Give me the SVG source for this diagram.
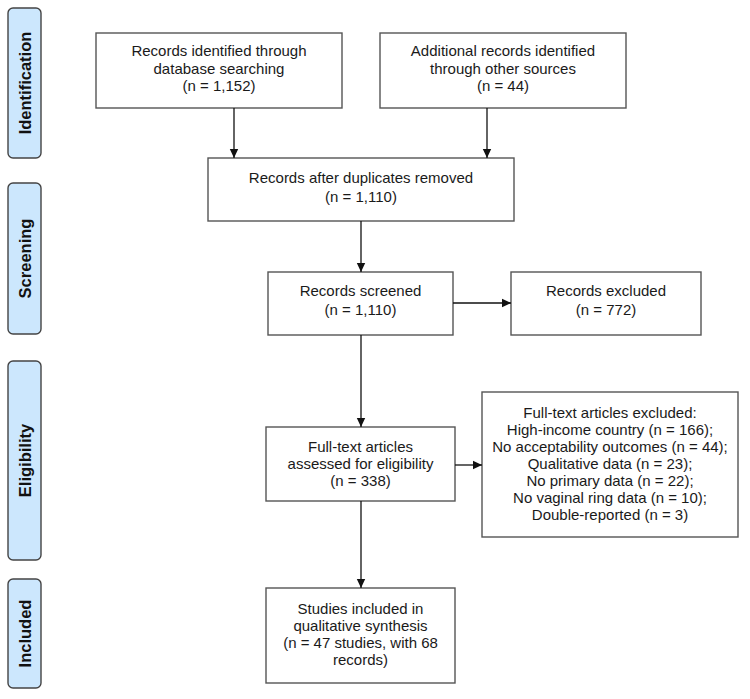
<svg xmlns="http://www.w3.org/2000/svg" width="750" height="699" viewBox="0 0 750 699">
<defs>
<marker id="ah" markerWidth="10" markerHeight="10" refX="9" refY="5" orient="auto" markerUnits="userSpaceOnUse">
<path d="M0,0.8 L9,5 L0,9.2 Z" fill="#111"/>
</marker>
<style>
.box{fill:#fff;stroke:#555;stroke-width:1.4}
.side{fill:#cce7fd;stroke:#444;stroke-width:1.4}
.t{font-family:"Liberation Sans",Arial,sans-serif;font-size:15px;fill:#1a1a1a;text-anchor:middle}
.st{font-family:"Liberation Sans",Arial,sans-serif;font-size:16.5px;font-weight:bold;fill:#111;text-anchor:middle}
.c{stroke:#111;stroke-width:1.3;fill:none;marker-end:url(#ah)}
</style>
</defs>
<rect width="750" height="699" fill="#fff"/>
<g id="phase-identification"><rect class="side" x="8" y="8" width="33" height="150" rx="5"/><text class="st" transform="translate(31,83) rotate(-90)">Identification</text></g>
<g id="phase-screening"><rect class="side" x="8" y="183" width="33" height="151" rx="5"/><text class="st" transform="translate(31,258.5) rotate(-90)">Screening</text></g>
<g id="phase-eligibility"><rect class="side" x="8" y="361" width="33" height="199" rx="5"/><text class="st" transform="translate(31,460.5) rotate(-90)">Eligibility</text></g>
<g id="phase-included"><rect class="side" x="8" y="579" width="33" height="109" rx="5"/><text class="st" transform="translate(31,633.5) rotate(-90)">Included</text></g>

<g id="db-search"><rect class="box" x="96" y="33" width="246" height="75"/>
<text class="t" x="219" y="56">Records identified through</text>
<text class="t" x="219" y="73.5">database searching</text>
<text class="t" x="219" y="91">(n = 1,152)</text></g>

<g id="other-sources"><rect class="box" x="380" y="33" width="246" height="75"/>
<text class="t" x="503" y="56">Additional records identified</text>
<text class="t" x="503" y="73.5">through other sources</text>
<text class="t" x="503" y="91">(n = 44)</text></g>

<g id="dup-removed"><rect class="box" x="208" y="158" width="306" height="63"/>
<text class="t" x="361" y="183">Records after duplicates removed</text>
<text class="t" x="361" y="202">(n = 1,110)</text></g>

<g id="screened"><rect class="box" x="268" y="272" width="185" height="63"/>
<text class="t" x="360.5" y="296">Records screened</text>
<text class="t" x="360.5" y="315">(n = 1,110)</text></g>

<g id="excluded"><rect class="box" x="511" y="272" width="190" height="63"/>
<text class="t" x="606" y="296">Records excluded</text>
<text class="t" x="606" y="315">(n = 772)</text></g>

<g id="fulltext"><rect class="box" x="266" y="427" width="189" height="74"/>
<text class="t" x="360.5" y="451.5">Full-text articles</text>
<text class="t" x="360.5" y="468.5">assessed for eligibility</text>
<text class="t" x="360.5" y="485.5">(n = 338)</text></g>

<g id="fulltext-excluded"><rect class="box" x="482" y="392" width="256" height="145"/>
<text class="t" x="610" y="418">Full-text articles excluded:</text>
<text class="t" x="610" y="435">High-income country (n = 166);</text>
<text class="t" x="610" y="452">No acceptability outcomes (n = 44);</text>
<text class="t" x="610" y="469">Qualitative data (n = 23);</text>
<text class="t" x="610" y="486">No primary data (n = 22);</text>
<text class="t" x="610" y="503">No vaginal ring data (n = 10);</text>
<text class="t" x="610" y="520">Double-reported (n = 3)</text>
</g>

<g id="included"><rect class="box" x="266" y="588" width="189" height="95"/>
<text class="t" x="360.5" y="614">Studies included in</text>
<text class="t" x="360.5" y="631">qualitative synthesis</text>
<text class="t" x="360.5" y="648">(n = 47 studies, with 68</text>
<text class="t" x="360.5" y="665">records)</text></g>

<g id="connectors">
<line class="c" x1="234" y1="108" x2="234" y2="158"/>
<line class="c" x1="487" y1="108" x2="487" y2="158"/>
<line class="c" x1="361" y1="221" x2="361" y2="272"/>
<line class="c" x1="453" y1="303" x2="511" y2="303"/>
<line class="c" x1="361" y1="335" x2="361" y2="427"/>
<line class="c" x1="455" y1="465" x2="482" y2="465"/>
<line class="c" x1="361" y1="501" x2="361" y2="588"/>
</g>
</svg>
